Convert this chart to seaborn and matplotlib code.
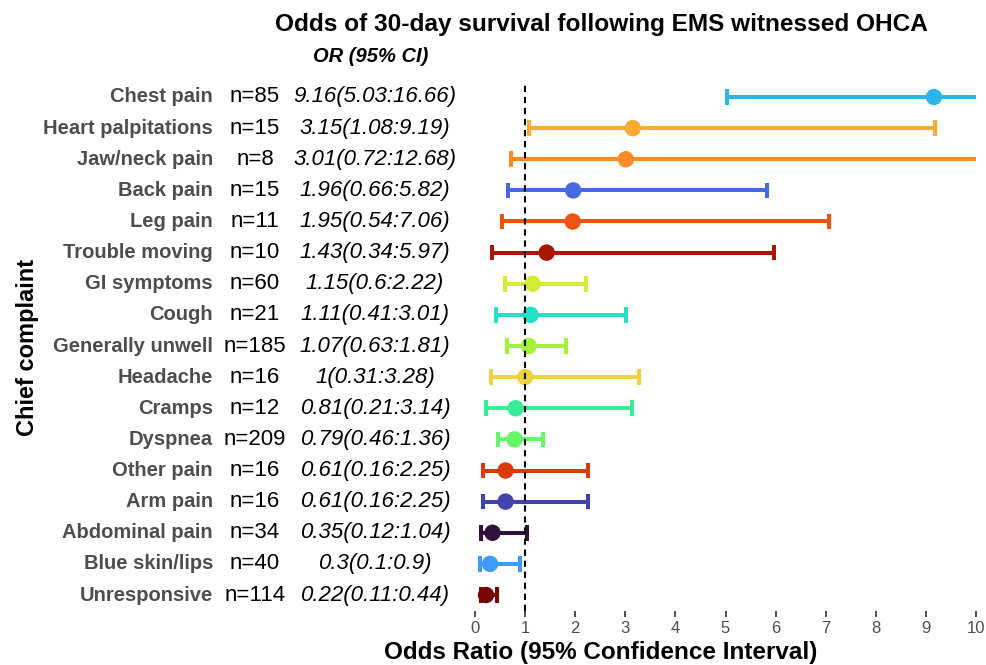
import numpy as np
import pandas as pd
import matplotlib
matplotlib.use("Agg")
import matplotlib.pyplot as plt
import matplotlib.transforms as mtransforms
import seaborn as sns

# data, top row first
complaints = ["Chest pain", "Heart palpitations", "Jaw/neck pain", "Back pain", "Leg pain",
              "Trouble moving", "GI symptoms", "Cough", "Generally unwell", "Headache",
              "Cramps", "Dyspnea", "Other pain", "Arm pain", "Abdominal pain",
              "Blue skin/lips", "Unresponsive"]
n_cases = [85, 15, 8, 15, 11, 10, 60, 21, 185, 16, 12, 209, 16, 16, 34, 40, 114]
odds = [9.16, 3.15, 3.01, 1.96, 1.95, 1.43, 1.15, 1.11, 1.07, 1, 0.81, 0.79, 0.61, 0.61, 0.35, 0.3, 0.22]
ci_low = [5.03, 1.08, 0.72, 0.66, 0.54, 0.34, 0.6, 0.41, 0.63, 0.31, 0.21, 0.46, 0.16, 0.16, 0.12, 0.1, 0.11]
ci_high = [16.66, 9.19, 12.68, 5.82, 7.06, 5.97, 2.22, 3.01, 1.81, 3.28, 3.14, 1.36, 2.25, 2.25, 1.04, 0.9, 0.44]
x_ticks = list(range(0, 11))

colors = ["#29B7E9", "#FEAA35", "#FE8A2A", "#4668E0", "#EB5412", "#A81701", "#D3EC35",
          "#22E1C8", "#A5F337", "#EED23C", "#36ED98", "#66F66A", "#D83A08", "#4044AC",
          "#30123B", "#3E9BFE", "#7A0403"]

df = pd.DataFrame({"complaint": complaints, "n": n_cases, "OR": odds,
                   "lo": ci_low, "hi": ci_high})
df["row"] = np.arange(len(df))

sns.set_theme(style="white")
plt.rcParams["font.family"] = ["Liberation Sans", "DejaVu Sans"]
plt.rcParams["text.color"] = "black"

W, H = 987, 665
fig = plt.figure(figsize=(W / 100, H / 100), dpi=100)
ax = fig.add_axes([475 / W, 1 - 611 / H, 501 / W, 530 / H])

# CI lines and caps (clipped at the panel edge)
ax.hlines(df["row"], df["lo"], df["hi"], colors=colors, lw=2.9)
ax.vlines(df["lo"], df["row"] - 0.25, df["row"] + 0.25, colors=colors, lw=2.9)
ax.vlines(df["hi"], df["row"] - 0.25, df["row"] + 0.25, colors=colors, lw=2.9)

sns.scatterplot(data=df, x="OR", y="row", hue="complaint", palette=colors,
                s=140, linewidth=0, legend=False, ax=ax, zorder=3)

ax.axvline(1, color="black", lw=1.5, ls="--", dashes=(3, 2.3), zorder=4)

ax.set_xlim(0, 10)
ax.set_ylim(16.514, -0.514)
ax.set_xticks(x_ticks)
ax.set_yticks([])
ax.set_xlabel("")
ax.set_ylabel("")
for s in ax.spines.values():
    s.set_visible(False)
ax.tick_params(axis="x", bottom=True, length=4, width=1.2, color="#333333",
               pad=3, labelsize=12, labelcolor="#4D4D4D")

# text columns
trans = mtransforms.blended_transform_factory(fig.transFigure, ax.transData)
for _, r in df.iterrows():
    ax.text(213 / W, r["row"], r["complaint"], transform=trans, ha="right", va="center",
            fontsize=14.5, fontweight="bold", color="#4D4D4D")
    ax.text(255 / W, r["row"], f"n={r['n']}", transform=trans, ha="center", va="center",
            fontsize=16, color="black")
    ax.text(375 / W, r["row"], f"{r['OR']:g}({r['lo']:g}:{r['hi']:g})", transform=trans,
            ha="center", va="center", fontsize=16, fontstyle="italic", color="black")

fig.text(601 / W, 1 - 25 / H, "Odds of 30-day survival following EMS witnessed OHCA",
         ha="center", va="center", fontsize=17.6, fontweight="bold", color="black")
fig.text(371 / W, 1 - 57 / H, "OR (95% CI)", ha="center", va="center",
         fontsize=14.5, fontweight="bold", fontstyle="italic", color="black")
fig.text(28 / W, 1 - 347 / H, "Chief complaint", rotation=90, ha="center", va="center",
         fontsize=17, fontweight="bold", color="black")
fig.text(601 / W, 1 - 653 / H, "Odds Ratio (95% Confidence Interval)", ha="center",
         va="center", fontsize=17.5, fontweight="bold", color="black")

fig.savefig("out.png", dpi=100)
